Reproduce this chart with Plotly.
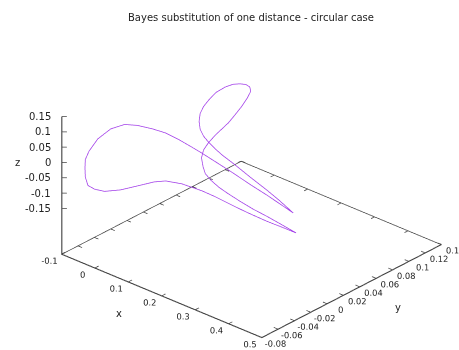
import plotly.graph_objects as go

TITLE = "Bayes substitution of one distance - circular case"

# axis ranges (gnuplot-style: base plane sits below zmin by ticslevel * z span)
X_RANGE = [-0.1, 0.5]
Y_RANGE = [-0.08, 0.14]
Z_RANGE = [-0.15, 0.15]
TICSLEVEL = 0.5

X_TICKS = [-0.1, 0.0, 0.1, 0.2, 0.3, 0.4, 0.5]
X_TICKTEXT = ["-0.1", "0", "0.1", "0.2", "0.3", "0.4", "0.5"]
Y_TICKS = [-0.08, -0.06, -0.04, -0.02, 0.0, 0.02, 0.04, 0.06, 0.08, 0.1, 0.12, 0.14]
Y_TICKTEXT = ["-0.08", "-0.06", "-0.04", "-0.02", "0", "0.02", "0.04", "0.06",
              "0.08", "0.1", "0.12", "0.14"]
Z_TICKS = [-0.15, -0.1, -0.05, 0.0, 0.05, 0.1, 0.15]
Z_TICKTEXT = ["-0.15", "-0.1", "-0.05", "0", "0.05", "0.1", "0.15"]

# closed trajectory of the estimate
curve_x = [0.4460, 0.4015, 0.3596, 0.3085, 0.2548, 0.1995, 0.1533, 0.1251, 0.0884, 0.0525,
           0.0266, 0.0009, -0.0158, -0.0339, -0.0511, -0.0630, -0.0679, -0.0683, -0.0679,
           -0.0643, -0.0555, -0.0422, -0.0207, 0.0018, 0.0181, 0.0340, 0.0705, 0.1247,
           0.1649, 0.2284, 0.2704, 0.3308, 0.3743, 0.4168, 0.3745, 0.3421, 0.3119, 0.2789,
           0.2443, 0.2211, 0.1960, 0.1741, 0.1583, 0.1392, 0.1292, 0.1256, 0.1257, 0.1270,
           0.1290, 0.1250, 0.1182, 0.1104, 0.1022, 0.0914, 0.0810, 0.0719, 0.0620, 0.0559,
           0.0539, 0.0613, 0.0688, 0.0795, 0.0949, 0.1139, 0.1327, 0.1517, 0.1762, 0.2023,
           0.2355, 0.2902, 0.3461, 0.3932, 0.4460]
curve_y = [-0.0196, -0.0181, -0.0169, -0.0159, -0.0143, -0.0132, -0.0122, -0.0127, -0.0132,
           -0.0154, -0.0204, -0.0280, -0.0370, -0.0465, -0.0552, -0.0612, -0.0637, -0.0639,
           -0.0637, -0.0619, -0.0574, -0.0507, -0.0398, -0.0284, -0.0148, -0.0072, -0.0021,
           -0.0003, -0.0008, -0.0029, -0.0040, -0.0048, -0.0043, -0.0041, -0.0068, -0.0095,
           -0.0133, -0.0158, -0.0176, -0.0185, -0.0178, -0.0160, -0.0122, -0.0063, 0.0003,
           0.0079, 0.0156, 0.0232, 0.0306, 0.0399, 0.0513, 0.0613, 0.0690, 0.0723, 0.0718,
           0.0682, 0.0638, 0.0569, 0.0464, 0.0344, 0.0249, 0.0165, 0.0089, 0.0024, -0.0012,
           -0.0030, -0.0047, -0.0058, -0.0059, -0.0083, -0.0112, -0.0146, -0.0196]
curve_z = [0.000, 0.008, 0.016, 0.025, 0.035, 0.045, 0.053, 0.060, 0.068, 0.077, 0.085, 0.095,
           0.103, 0.0933, 0.0652, 0.0276, 0.0013, -0.0261, -0.0554, -0.0838, -0.0982, -0.1086,
           -0.1090, -0.1016, -0.100, -0.100, -0.100, -0.100, -0.100, -0.100, -0.100, -0.100,
           -0.100, -0.100, -0.085, -0.072, -0.058, -0.044, -0.030, -0.020, -0.010, 0.000,
           0.010, 0.022, 0.034, 0.046, 0.058, 0.069, 0.080, 0.090, 0.100, 0.110, 0.118, 0.123,
           0.127, 0.130, 0.130, 0.128, 0.124, 0.119, 0.114, 0.108, 0.100, 0.092, 0.083, 0.075,
           0.066, 0.057, 0.045, 0.030, 0.018, 0.009, 0.000]

FONT = "DejaVu Sans"
FRAME = "#444444"
CURVE = "#a03ce8"

zspan = Z_RANGE[1] - Z_RANGE[0]
zb = Z_RANGE[0] - TICSLEVEL * zspan  # base plane height
xs, ys = X_RANGE[1] - X_RANGE[0], Y_RANGE[1] - Y_RANGE[0]
# frame drawn a hair inside the scene bounds so it is not clipped by them
eps = 0.002
x0, x1 = X_RANGE[0] + eps * xs, X_RANGE[1] - eps * xs
y0, y1 = Y_RANGE[0] + eps * ys, Y_RANGE[1] - eps * ys
zf = zb + eps * zspan

fig = go.Figure()

# base rectangle and vertical z axis
fx = [x0, x1, x1, x0, x0, None, x0, x0]
fy = [y0, y0, y1, y1, y0, None, y0, y0]
fz = [zf, zf, zf, zf, zf, None, zf, Z_RANGE[1]]

# inward tick marks on all four base edges and on the z axis
tl = 0.02
for t in X_TICKS:
    fx += [None, t, t, None, t, t]
    fy += [None, y0, y0 + tl * ys, None, y1, y1 - tl * ys]
    fz += [None, zf, zf, None, zf, zf]
for t in Y_TICKS:
    fx += [None, x1, x1 - tl * xs, None, x0, x0 + tl * xs]
    fy += [None, t, t, None, t, t]
    fz += [None, zf, zf, None, zf, zf]
for t in Z_TICKS:
    fx += [None, x0, x0 + 0.0137 * xs]
    fy += [None, y0, y0 + 0.0122 * ys]
    fz += [None, t, t]

fig.add_trace(go.Scatter3d(x=fx, y=fy, z=fz, mode="lines",
                           line=dict(color=FRAME, width=1.5),
                           hoverinfo="skip", showlegend=False))

fig.add_trace(go.Scatter3d(x=curve_x, y=curve_y, z=curve_z, mode="lines",
                           line=dict(color=CURVE, width=1.5),
                           hoverinfo="skip", showlegend=False))

def axis(rng, vals, text, labels=True):
    return dict(range=rng, tickvals=vals, ticktext=text, ticks="", tickangle=0,
                showticklabels=labels,
                showgrid=False, zeroline=False, showline=True, linecolor=FRAME,
                linewidth=1, showbackground=False,
                showspikes=False, title=dict(text=""),
                tickfont=dict(family=FONT, size=10, color="#222"))

# z tick labels pinned beside the vertical axis
z_labels = [dict(x=X_RANGE[0], y=Y_RANGE[0], z=t, text=s, showarrow=False,
                 xanchor="right", yanchor="middle", xshift=-8,
                 font=dict(family=FONT, size=10, color="#222"))
            for t, s in zip(Z_TICKS, Z_TICKTEXT)]

S = 1.54  # box scale
# view direction (gnuplot-like rotation) and a small pan of the look-at point
view = (0.5912, -0.6594, 0.4645)
ctr = (-0.1036, -0.0728, 0.0285)
fig.update_layout(
    width=459, height=350,
    margin=dict(l=0, r=0, t=0, b=0),
    paper_bgcolor="white",
    showlegend=False,
    font=dict(family=FONT, size=10, color="#222"),
    scene=dict(
        domain=dict(x=[0.0, 1.0], y=[0.0, 1.0]),
        xaxis=axis(X_RANGE, X_TICKS, X_TICKTEXT),
        yaxis=axis(Y_RANGE, Y_TICKS, Y_TICKTEXT),
        zaxis=axis([zb, Z_RANGE[1]], Z_TICKS, Z_TICKTEXT, labels=False),
        aspectmode="manual",
        aspectratio=dict(x=S, y=S, z=0.5775 * S),
        camera=dict(eye=dict(x=ctr[0] + 2 * view[0], y=ctr[1] + 2 * view[1],
                             z=ctr[2] + 2 * view[2]),
                    up=dict(x=0, y=0, z=1),
                    center=dict(x=ctr[0], y=ctr[1], z=ctr[2]),
                    projection=dict(type="orthographic")),
        annotations=z_labels,
    ),
    annotations=[
        dict(text=TITLE, x=0.547, y=0.971, xref="paper", yref="paper",
             showarrow=False, font=dict(size=10)),
        dict(text="x", x=114 / 459, y=1 - 321 / 350, xref="paper", yref="paper",
             showarrow=False),
        dict(text="y", x=403 / 459, y=1 - 315 / 350, xref="paper", yref="paper",
             showarrow=False),
        dict(text="z", x=13 / 459, y=1 - 162 / 350, xref="paper", yref="paper",
             showarrow=False),
    ],
)

fig.write_html("out.html")
